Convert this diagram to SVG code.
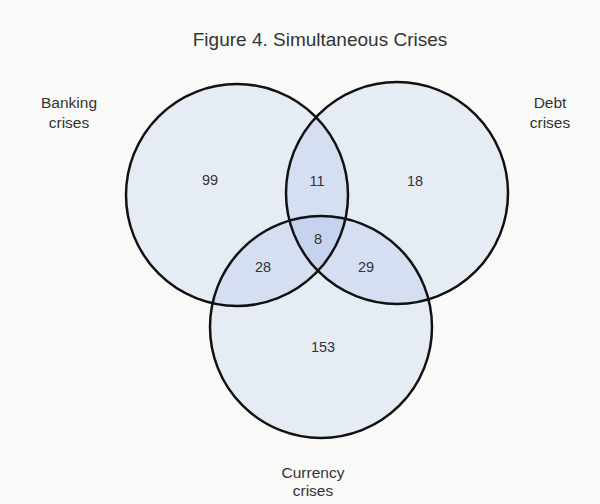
<svg xmlns="http://www.w3.org/2000/svg" width="600" height="504" viewBox="0 0 600 504">
<style>
.bg{fill:#f9faf8}
.fill{fill:rgb(40,95,210);fill-opacity:0.085}
.ring{fill:none;stroke:#111;stroke-width:2.5}
text{font-family:"Liberation Sans",Arial,sans-serif;fill:#333;text-anchor:middle}
.title{font-size:19px}
.lbl{font-size:15.5px}
.num{font-size:14.5px}
</style>
<rect class="bg" x="0" y="0" width="600" height="504"/>
<text class="title" x="320" y="46">Figure 4. Simultaneous Crises</text>
<g id="banking">
<circle class="fill" cx="237" cy="195" r="111"/>
<text class="lbl" x="69" y="108">Banking</text>
<text class="lbl" x="69" y="128">crises</text>
</g>
<g id="debt">
<circle class="fill" cx="397" cy="193" r="111"/>
<text class="lbl" x="550" y="108">Debt</text>
<text class="lbl" x="550" y="128">crises</text>
</g>
<g id="currency">
<circle class="fill" cx="321" cy="327" r="111"/>
<text class="lbl" x="313" y="478">Currency</text>
<text class="lbl" x="313" y="496">crises</text>
</g>
<g id="outlines">
<circle class="ring" cx="237" cy="195" r="111"/>
<circle class="ring" cx="397" cy="193" r="111"/>
<circle class="ring" cx="321" cy="327" r="111"/>
</g>
<g id="counts">
<text class="num" x="210" y="185">99</text>
<text class="num" x="317" y="186">11</text>
<text class="num" x="415" y="186">18</text>
<text class="num" x="318" y="244">8</text>
<text class="num" x="263" y="272">28</text>
<text class="num" x="366" y="272">29</text>
<text class="num" x="323" y="352">153</text>
</g>
</svg>
